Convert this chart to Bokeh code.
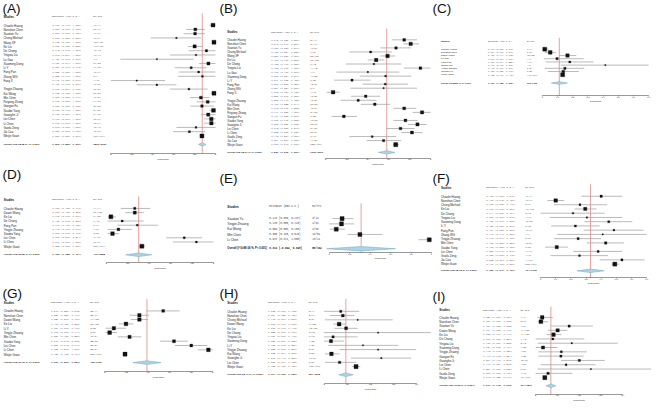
import math
from bokeh.plotting import figure
from bokeh.layouts import column, row
from bokeh.models import Range1d, FixedTicker
from bokeh.core.properties import value
from bokeh.embed import file_html
from bokeh.resources import INLINE

# ---------------- data ----------------
a_names = ["Chaolin Huang", "Nanshan Chen", "Xiaotian Yu", "Chung Michael", "Wang XF", "Ke Liu", "De Chang",
           "Yingxia Liu", "Lu Gao", "Xiaoming Dong", "Li Y", "Fang Pan", "Zhang WG", "Fang X", "",
           "Yingjie Zhuang", "Kai Wang", "Min Chen", "Peiyong Zhong", "Gangan Fu", "Xiaobo Yang", "Guanghe Ji",
           "Lei Chen", "Li Chen", "Guofa Zeng", "Jia Cao", "Weijie Guan"]
a_est = [0.976, 0.807, 0.804, 0.626, 0.985, 0.800, 0.913, 0.813, 0.439, 0.932, 0.767, 0.838, 0.875, 0.246, 0.439,
         0.745, 0.985, 0.860, 0.925, 0.870, 0.980, 0.930, 0.960, 0.960, 0.813, 0.750, 0.870]
a_lo = [0.940, 0.720, 0.695, 0.380, 0.970, 0.736, 0.745, 0.564, 0.090, 0.844, 0.610, 0.650, 0.640, 0.000, 0.246,
        0.564, 0.955, 0.757, 0.820, 0.760, 0.945, 0.860, 0.890, 0.890, 0.626, 0.595, 0.850]
a_hi = [1.000, 0.900, 0.900, 0.860, 1.000, 0.875, 1.000, 1.000, 0.790, 1.000, 0.913, 1.000, 1.000, 0.517, 0.626,
        0.925, 1.000, 0.940, 1.000, 0.985, 1.000, 1.000, 1.000, 1.000, 1.000, 0.900, 0.890]
a_ev = [40, 80, 19, 13, 137, 110, 12, 10, 4, 31, 19, 18, 8, 4, 17, 25, 57, 46, 24, 30, 51, 61, 28, 23, 13, 15, 956]
a_n = [41, 99, 24, 21, 139, 137, 13, 12, 9, 33, 25, 21, 9, 15, 39, 34, 58, 54, 26, 35, 52, 66, 29, 24, 16, 20, 1099]
a_overall = [0.873, 0.836, 0.909]
a_i2, a_p = 95.32, "P< 0.001"
a_ticks = [0, 0.2, 0.4, 0.6, 0.8, 1.0]

b_names = a_names
b_est = [0.748, 0.810, 0.670, 0.427, 0.589, 0.480, 0.458, 0.903, 0.400, 0.570, 0.249, 0.567, 0.551, 0.068, 0.380,
         0.308, 0.467, 0.748, 0.919, 0.171, 0.760, 0.875, 0.713, 0.822, 0.442, 0.551, 0.667]
b_lo = [0.630, 0.740, 0.520, 0.224, 0.520, 0.400, 0.190, 0.745, 0.100, 0.324, 0.078, 0.350, 0.234, 0.006, 0.240,
        0.140, 0.333, 0.645, 0.830, 0.053, 0.645, 0.785, 0.580, 0.720, 0.224, 0.390, 0.640]
b_hi = [0.870, 0.890, 0.816, 0.630, 0.660, 0.558, 0.720, 1.000, 0.700, 0.816, 0.427, 0.785, 0.870, 0.130, 0.520,
        0.483, 0.614, 0.863, 1.000, 0.296, 0.878, 0.963, 0.847, 0.925, 0.670, 0.720, 0.695]
b_ev = [31, 81, 16, 9, 82, 66, 6, 11, 4, 19, 6, 12, 5, 1, 15, 10, 27, 40, 24, 6, 40, 58, 21, 20, 7, 11, 733]
b_n = a_n
b_overall = [0.581, 0.502, 0.660]
b_i2, b_p = 92.17, "P< 0.001"
b_ticks = [0, 0.2, 0.4, 0.6, 0.8, 1.0]

c_names = ["Chaolin Huang", "Nanshan Chen", "Dawei Wang", "Lu Gao", "Fang Pan", "Zhang WG", "Yingjie Zhuang",
           "Gangan Fu", "Weijie Guan"]
c_est = [0.015, 0.051, 0.165, 0.096, 0.180, 0.415, 0.148, 0.137, 0.133]
c_lo = [0.000, 0.015, 0.111, 0.009, 0.021, 0.120, 0.015, 0.036, 0.122]
c_hi = [0.040, 0.090, 0.223, 0.272, 0.336, 0.700, 0.276, 0.240, 0.143]
c_ev = [0, 5, 23, 1, 4, 4, 5, 5, 146]
c_n = [41, 99, 138, 9, 21, 9, 34, 35, 1099]
c_overall = [0.111, 0.058, 0.165]
c_i2, c_p = 88.21, "P< 0.001"
c_ticks = [0, 0.1, 0.2, 0.3, 0.4, 0.5, 0.6, 0.7]

d_names = ["Chaolin Huang", "Dawei Wang", "Ke Liu", "De Chang", "Fang Pan", "Yingjie Zhuang", "Xiaobo Yang",
           "Lei Chen", "Li Chen", "Weijie Guan"]
d_est = [0.267, 0.267, 0.045, 0.150, 0.290, 0.115, 0.060, 0.727, 0.840, 0.333]
d_lo = [0.136, 0.180, 0.015, 0.015, 0.106, 0.015, 0.015, 0.560, 0.620, 0.305]
d_hi = [0.410, 0.350, 0.090, 0.350, 0.485, 0.240, 0.120, 0.894, 1.000, 0.362]
d_ev = [11, 37, 6, 2, 6, 4, 3, 21, 20, 366]
d_n = [41, 138, 137, 13, 21, 34, 52, 29, 24, 1099]
d_overall = [0.303, 0.182, 0.424]
d_i2, d_p = 96.62, "P< 0.001"
d_ticks = [0, 0.2, 0.4, 0.6, 0.8, 1.0]

e_names = ["Xiaotian Yu", "Yingjie Zhuang", "Kai Wang", "Min Chen", "Li Chen"]
e_est = [0.126, 0.120, 0.069, 0.300, 0.978]
e_lo = [0.030, 0.000, 0.006, 0.180, 0.874]
e_hi = [0.237, 0.243, 0.155, 0.520, 1.000]
e_ev = [3, 4, 4, 16, 23]
e_n = [24, 34, 58, 54, 24]
e_overall = [0.312, -0.024, 0.648]
e_i2, e_p = 98.06, "P< 0.001"
e_ticks = [0, 0.2, 0.4, 0.6, 0.8, 1.0]

f_names = ["Chaolin Huang", "Nanshan Chen", "Chung Michael", "Ke Liu", "De Chang", "Yingxia Liu", "Xiaoming Dong",
           "Li Y", "Fang Pan", "Zhang WG", "Yingjie Zhuang", "Min Chen", "Xiaobo Yang", "Lei Chen", "Guofa Zeng",
           "Jia Cao", "Weijie Guan"]
f_est = [0.400, 0.100, 0.260, 0.295, 0.214, 0.306, 0.450, 0.230, 0.484, 0.410, 0.248, 0.430, 0.107, 0.380, 0.257,
         0.537, 0.490]
f_lo = [0.270, 0.045, 0.088, 0.225, 0.000, 0.060, 0.290, 0.070, 0.285, 0.110, 0.090, 0.306, 0.030, 0.216, 0.066,
        0.390, 0.467]
f_hi = [0.540, 0.156, 0.440, 0.370, 0.424, 0.540, 0.605, 0.390, 0.680, 0.700, 0.400, 0.550, 0.180, 0.540, 0.445,
        0.687, 0.520]
f_ev = [16, 10, 5, 40, 3, 4, 15, 6, 10, 4, 8, 23, 6, 11, 4, 11, 538]
f_n = [41, 99, 21, 137, 13, 12, 33, 25, 21, 9, 34, 54, 52, 29, 16, 20, 1099]
f_overall = [0.330, 0.240, 0.420]
f_i2, f_p = 92.75, "P< 0.001"
f_ticks = [0, 0.1, 0.2, 0.3, 0.4, 0.5, 0.6, 0.7]

g_names = ["Chaolin Huang", "Nanshan Chen", "Dawei Wang", "Ke Liu", "Li Y", "Yingjie Zhuang", "Min Chen",
           "Xiaobo Yang", "Lei Chen", "Li Chen", "Weijie Guan"]
g_est = [0.540, 0.320, 0.320, 0.196, 0.084, 0.045, 0.229, 0.640, 0.800, 0.958, 0.187]
g_lo = [0.386, 0.230, 0.240, 0.126, 0.006, 0.006, 0.120, 0.512, 0.648, 0.860, 0.175]
g_hi = [0.693, 0.410, 0.400, 0.265, 0.196, 0.114, 0.337, 0.768, 0.949, 1.000, 0.199]
g_ev = [22, 32, 44, 27, 2, 2, 12, 33, 23, 23, 205]
g_n = [41, 99, 138, 137, 25, 34, 54, 52, 29, 24, 1099]
g_overall = [0.390, 0.260, 0.520]
g_i2, g_p = 97.76, "P< 0.001"
g_ticks = [0, 0.2, 0.4, 0.6, 0.8, 1.0]

h_names = ["Chaolin Huang", "Nanshan Chen", "Chung Michael", "Dawei Wang", "Ke Liu", "De Chang", "Yingxia Liu",
           "Xiaoming Dong", "Li Y", "Yingjie Zhuang", "Kai Wang", "Guanghe Ji", "Lei Chen", "Weijie Guan"]
h_est = [0.072, 0.081, 0.145, 0.065, 0.095, 0.233, 0.039, 0.030, 0.168, 0.233, 0.032, 0.247, 0.067, 0.138]
h_lo = [0.000, 0.025, 0.004, 0.040, 0.046, 0.000, 0.000, 0.000, 0.018, 0.067, 0.004, 0.116, 0.004, 0.120]
h_hi = [0.152, 0.130, 0.296, 0.095, 0.145, 0.460, 0.145, 0.086, 0.320, 0.397, 0.067, 0.376, 0.138, 0.156]
h_ev = [3, 8, 3, 9, 13, 3, 0, 1, 4, 8, 2, 16, 2, 152]
h_n = [41, 99, 21, 138, 137, 13, 12, 33, 25, 34, 58, 66, 29, 1099]
h_overall = [0.094, 0.063, 0.126]
h_i2, h_p = 63.47, "P< 0.001"
h_ticks = [0, 0.1, 0.2, 0.3, 0.4]

i_names = ["Chaolin Huang", "Nanshan Chen", "Xiaotian Yu", "Dawei Wang", "Ke Liu", "De Chang", "Yingxia Liu",
           "Xiaoming Dong", "Yingjie Zhuang", "Gangan Fu", "Guanghe Ji", "Lei Chen", "Li Chen", "Guofa Zeng",
           "Weijie Guan"]
i_est = [0.030, 0.024, 0.154, 0.101, 0.082, 0.079, 0.166, 0.034, 0.118, 0.116, 0.201, 0.140, 0.254, 0.057, 0.042]
i_lo = [0.009, 0.009, 0.072, 0.057, 0.049, 0.000, 0.009, 0.000, 0.012, 0.012, 0.116, 0.024, 0.009, 0.000, 0.035]
i_hi = [0.079, 0.057, 0.263, 0.146, 0.119, 0.224, 0.378, 0.101, 0.236, 0.221, 0.318, 0.276, 0.537, 0.169, 0.049]
i_ev = [1, 2, 4, 14, 11, 1, 2, 1, 4, 4, 13, 4, 6, 1, 46]
i_n = [41, 99, 24, 138, 137, 13, 12, 33, 34, 35, 66, 29, 24, 16, 1099]
i_overall = [0.070, 0.048, 0.093]
i_i2, i_p = 70.53, "P=0.004"
i_ticks = [0, 0.1, 0.2, 0.3, 0.4]

panel_labels = ["(A)", "(B)", "(C)", "(D)", "(E)", "(F)", "(G)", "(H)", "(I)"]

DATA = [
    (a_names, a_est, a_lo, a_hi, a_ev, a_n, a_overall, a_i2, a_p, a_ticks),
    (b_names, b_est, b_lo, b_hi, b_ev, b_n, b_overall, b_i2, b_p, b_ticks),
    (c_names, c_est, c_lo, c_hi, c_ev, c_n, c_overall, c_i2, c_p, c_ticks),
    (d_names, d_est, d_lo, d_hi, d_ev, d_n, d_overall, d_i2, d_p, d_ticks),
    (e_names, e_est, e_lo, e_hi, e_ev, e_n, e_overall, e_i2, e_p, e_ticks),
    (f_names, f_est, f_lo, f_hi, f_ev, f_n, f_overall, f_i2, f_p, f_ticks),
    (g_names, g_est, g_lo, g_hi, g_ev, g_n, g_overall, g_i2, g_p, g_ticks),
    (h_names, h_est, h_lo, h_hi, h_ev, h_n, h_overall, h_i2, h_p, h_ticks),
    (i_names, i_est, i_lo, i_hi, i_ev, i_n, i_overall, i_i2, i_p, i_ticks),
]

# ---------------- layout / style (reference pixel geometry, panel-relative) ----------------
GEOM = [
    dict(W=222, H=173, wpx=217, hpx=166, lab=(2, 1), hy=17, r0=25.7, dy=4.44, oy=150, axy=159,
         cols=(3, 53, 95), axpx=(113, 220), fs=3.0, fm=2.5, tau2=0.002),
    dict(W=220, H=173, wpx=215, hpx=166, lab=(2, 1), hy=32.7, r0=41, dy=4.2, oy=158.3, axy=164.3,
         cols=(10, 55, 95), axpx=(111, 218), fs=2.9, fm=2.45, tau2=0.003),
    dict(W=225, H=173, wpx=219, hpx=166, lab=(0, 1), hy=42.3, r0=50.7, dy=3.33, oy=86, axy=99.3,
         cols=(8.7, 57, 97), axpx=(113, 222), fs=2.5, fm=2.2, tau2=0.002),
    dict(W=222, H=124, wpx=217, hpx=119, lab=(2, 0), hy=34.7, r0=43.7, dy=4.37, oy=92, axy=99.7,
         cols=(3.3, 53, 95), axpx=(108, 218), fs=3.0, fm=2.5, tau2=0.002),
    dict(W=220, H=124, wpx=215, hpx=119, lab=(2, 5), hy=42, r0=54.3, dy=5.5, oy=85.7, axy=90,
         cols=(10, 53, 97), axpx=(114.3, 219), fs=3.3, fm=2.7, tau2=0.15),
    dict(W=225, H=124, wpx=219, hpx=119, lab=(0, 5), hy=22, r0=31, dy=4.42, oy=108.7, axy=116,
         cols=(8.7, 55.3, 95.3), axpx=(111, 220), fs=3.0, fm=2.5, tau2=0.002),
    dict(W=222, H=121, wpx=217, hpx=117, lab=(2, 0), hy=17.3, r0=26.3, dy=4.47, oy=79.7, axy=89,
         cols=(3.3, 51.7, 91.7), axpx=(106.7, 217.3), fs=3.0, fm=2.5, tau2=0.005),
    dict(W=220, H=121, wpx=215, hpx=117, lab=(2, 0), hy=17.3, r0=26.7, dy=4.4, oy=92.3, axy=101.3,
         cols=(10, 51.7, 93.3), axpx=(109, 204), fs=3.0, fm=2.5, tau2=0.0005),
    dict(W=225, H=121, wpx=219, hpx=117, lab=(0, 4), hy=25.3, r0=33, dy=4.45, oy=103.7, axy=112.3,
         cols=(7, 52, 90.3), axpx=(106, 195.3), fs=3.0, fm=2.5, tau2=0.001),
]

SANS = value("Liberation Sans")
MONO = value("Liberation Mono")


def fmt_ci(e, l, h):
    return f"{e:.3f} ({l:.3f}, {h:.3f})"


def build(label, data, g):
    names, est, lo, hi, ev, n, ov, i2, pstr, ticks = data
    W, H = g["W"], g["H"]
    sx, sy = g["wpx"] / W, g["hpx"] / H
    s = (sx + sy) / 2
    ax_lo, ax_hi = ticks[0], ticks[-1]
    px0, px1 = g["axpx"]
    k = (ax_hi - ax_lo) / (px1 - px0)

    def X(px):
        return ax_lo + (px - px0) * k

    p = figure(width=g["wpx"], height=g["hpx"], x_range=Range1d(X(0), X(W)), y_range=Range1d(H, 0),
               output_backend="svg", toolbar_location=None, title=None, y_axis_location=None,
               min_border=0, min_border_left=0, min_border_right=0, min_border_top=0, min_border_bottom=0,
               outline_line_color=None, background_fill_color="white", border_fill_color="white")
    p.grid.visible = False

    ax = p.xaxis[0]
    ax.fixed_location = g["axy"]
    ax.bounds = (ax_lo, ax_hi)
    ax.ticker = FixedTicker(ticks=ticks)
    ax.axis_label = "Proportion"
    ax.axis_label_text_font = "Liberation Sans"
    ax.axis_label_text_font_style = "normal"
    ax.axis_label_text_font_size = "2.5px"
    ax.axis_label_text_color = "#222"
    ax.axis_label_standoff = 0
    ax.major_label_text_font = "Liberation Sans"
    ax.major_label_text_font_size = "2.3px"
    ax.major_label_text_color = "#333"
    ax.major_label_standoff = 0
    ax.major_tick_out = 1
    ax.major_tick_in = 0
    ax.minor_tick_out = 0
    ax.minor_tick_in = 0
    ax.axis_line_color = "#555"
    ax.axis_line_width = 0.6
    ax.major_tick_line_color = "#555"
    ax.major_tick_line_width = 0.6

    m = len(names)
    ys = [g["r0"] + i * g["dy"] for i in range(m)]
    nx, ex, vx = (X(c) for c in g["cols"])
    fs = f"{g['fs'] * s:.2f}px"
    fsb = f"{g['fs'] * s * 0.85:.2f}px"
    fm = f"{g['fm'] * s:.2f}px"

    # panel label
    p.text(x=[X(g["lab"][0])], y=[g["lab"][1]], text=[label], text_font=SANS,
           text_font_size=f"{14 * s:.2f}px", text_baseline="top", text_align="left", text_color="#111")

    # headers
    p.text(x=[nx], y=[g["hy"]], text=["Studies"], text_font=SANS, text_font_style="bold",
           text_font_size=fs, text_baseline="middle", text_color="#111")
    p.text(x=[ex, vx], y=[g["hy"], g["hy"]], text=["Estimate (95% C.I.)", "Ev/Trt"], text_font=MONO,
           text_font_size=fm, text_baseline="middle", text_color="#333")

    # study rows
    p.text(x=[nx] * m, y=ys, text=names, text_font=SANS, text_font_size=fs,
           text_baseline="middle", text_color="#222")
    p.text(x=[ex] * m, y=ys, text=[fmt_ci(e, l, h) for e, l, h in zip(est, lo, hi)], text_font=MONO,
           text_font_size=fm, text_baseline="middle", text_color="#444")
    p.text(x=[vx] * m, y=ys, text=[f"{a}/{b}" for a, b in zip(ev, n)], text_font=MONO,
           text_font_size=fm, text_baseline="middle", text_color="#444")

    # overall row
    oy = g["oy"]
    p.text(x=[nx], y=[oy], text=[f"Overall (I^2={i2:.2f} %, {pstr})"], text_font=SANS,
           text_font_style="bold", text_font_size=fsb, text_baseline="middle", text_color="#111")
    p.text(x=[ex, vx], y=[oy, oy], text=[fmt_ci(*ov), f"{sum(ev)}/{sum(n)}"], text_font=MONO,
           text_font_style="bold", text_font_size=fm, text_baseline="middle", text_color="#222")

    # reference line at overall estimate
    p.segment(x0=[ov[0]], x1=[ov[0]], y0=[g["hy"] - 3.5], y1=[g["axy"]], line_color="#e07a7a",
              line_width=0.8, line_alpha=0.9)

    # confidence intervals
    p.segment(x0=lo, x1=hi, y0=ys, y1=ys, line_color="#9c9c9c", line_width=0.7)

    # weighted squares (inverse variance with between-study variance)
    wts = [1.0 / (((h - l) / 3.92) ** 2 + g["tau2"]) for l, h in zip(lo, hi)]
    wmax = max(wts)
    sizes = [max(1.3, 4.2 * math.sqrt(w / wmax)) * s for w in wts]
    p.scatter(x=est, y=ys, marker="square", size=sizes, fill_color="#111", line_color="#111", line_width=0.3)

    # summary diamond
    hh = g["dy"] * 0.42
    p.patches(xs=[[ov[1], ov[0], ov[2], ov[0]]], ys=[[oy, oy - hh, oy, oy + hh]],
              fill_color="#a9d6e5", line_color="#6ea7bd", line_width=0.5)
    return p


figs = [build(lbl, d, g) for lbl, d, g in zip(panel_labels, DATA, GEOM)]
layout = column(row(*figs[0:3]), row(*figs[3:6]), row(*figs[6:9]))

open("out.html", "w").write(file_html(layout, INLINE))
